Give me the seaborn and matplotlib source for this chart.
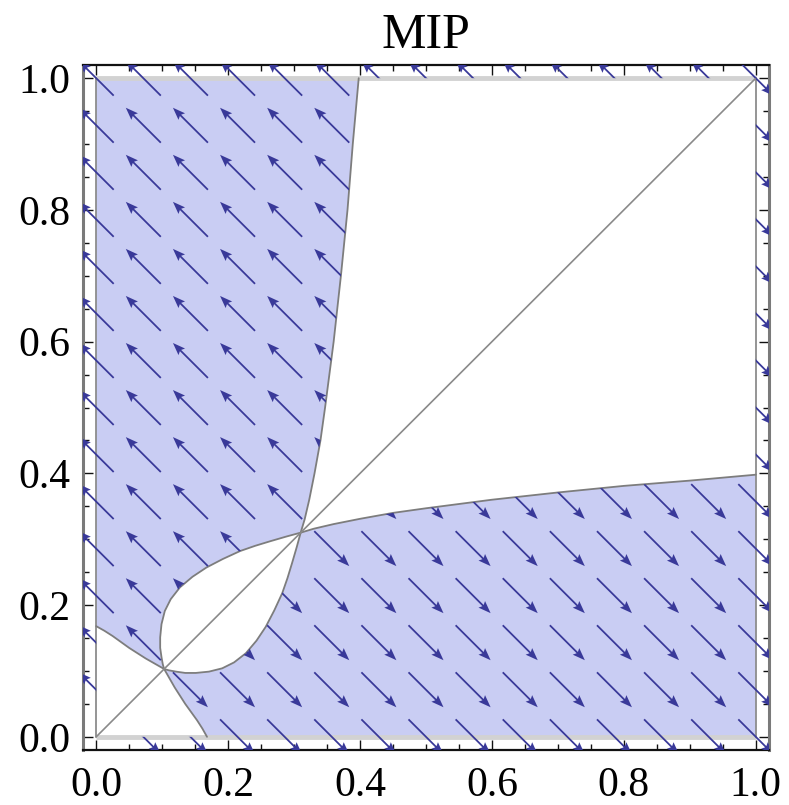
import numpy as np
import matplotlib
matplotlib.use('Agg')
import matplotlib.pyplot as plt
from matplotlib.path import Path
from matplotlib.patches import PathPatch
from matplotlib.ticker import MultipleLocator
import seaborn as sns

# boundary curve: from the top edge down to the crossing
# on the diagonal, then round the lower side of the loop to the node
curve_x = [0.398, 0.389, 0.381, 0.371, 0.360, 0.347, 0.340, 0.331, 0.323, 0.316, 0.31,
           0.304, 0.297, 0.290, 0.282, 0.270, 0.257, 0.243, 0.227, 0.209, 0.191,
           0.171, 0.151, 0.135, 0.121, 0.110, 0.103]
curve_y = [1.0, 0.9, 0.8, 0.7, 0.6, 0.5, 0.45, 0.4, 0.36, 0.33, 0.31,
           0.288, 0.264, 0.241, 0.218, 0.192, 0.167, 0.146, 0.127, 0.113, 0.104,
           0.099, 0.097, 0.097, 0.099, 0.101, 0.103]
# lower-left curve, from the left edge to the node (symmetric about the diagonal)
corner_x = [0.0, 0.0125, 0.025, 0.0375, 0.05, 0.0625, 0.075, 0.089, 0.103]
corner_y = [0.168, 0.161, 0.153, 0.144, 0.135, 0.127, 0.119, 0.111, 0.103]

grid_n = 14          # arrows every 1/14
arrow_len = 0.075
tick_vals = [0.0, 0.2, 0.4, 0.6, 0.8, 1.0]
title = "MIP"

fill_col = '#c9cdf3'
arrow_col = '#393999'
line_col = '#7d7d7d'

sns.set_theme(style='white')
plt.rcParams['font.family'] = ['Liberation Serif', 'DejaVu Serif']
plt.rcParams['text.color'] = 'black'
plt.rcParams['xtick.color'] = 'black'
plt.rcParams['ytick.color'] = 'black'

fig = plt.figure(figsize=(7.89, 8.05), dpi=100)
ax = fig.add_axes([83 / 789, 1 - 750 / 805, 686 / 789, 685 / 805])
ax.set_xlim(-0.02, 1.02)
ax.set_ylim(-0.02, 1.02)

cx, cy = np.array(curve_x), np.array(curve_y)
k = curve_y.index(0.31)
loop_x, loop_y = cy[k:][::-1], cx[k:][::-1]       # mirrored branch, node -> crossing
up_x, up_y = cx[:k + 1][::-1], cy[:k + 1][::-1]   # crossing -> top edge

r1x = np.concatenate([[0.0], corner_x, loop_x[1:], up_x[1:]])
r1y = np.concatenate([[1.0], corner_y, loop_y[1:], up_y[1:]])
r2x, r2y = r1y[::-1], r1x[::-1]


def poly(xs, ys):
    v = np.column_stack([xs, ys])
    v = np.vstack([v, v[:1]])
    return Path(v, closed=True)


p1 = poly(r1x, r1y)
p2 = poly(r2x, r2y)
ax.add_patch(PathPatch(p1, facecolor=fill_col, edgecolor='none', zorder=1))
ax.add_patch(PathPatch(p2, facecolor=fill_col, edgecolor='none', zorder=1))

# square edges
ax.plot([0, 1], [1, 1], color='#d2d2d2', lw=3.5, zorder=2, solid_capstyle='butt')
ax.plot([0, 1], [0, 0], color='#d2d2d2', lw=3.5, zorder=2, solid_capstyle='butt')
ax.plot([0, 0], [0, 1], color='#8c8c8c', lw=1.3, zorder=2)
ax.plot([1, 1], [0, 1], color='#8c8c8c', lw=1.3, zorder=2)

# boundary curves and diagonal
kw = dict(sort=False, estimator=None, color=line_col, lw=1.3, ax=ax, zorder=3)
sns.lineplot(x=cx, y=cy, **kw)
sns.lineplot(x=cy, y=cx, **kw)
c3x = np.concatenate([corner_x, corner_y[::-1][1:]])
c3y = np.concatenate([corner_y, corner_x[::-1][1:]])
sns.lineplot(x=c3x, y=c3y, **kw)
sns.lineplot(x=[0, 1], y=[0, 1], sort=False, estimator=None, color='#8a8a8a', lw=1.2, ax=ax, zorder=3)

# arrows: shown inside the shaded regions and in the margin outside the square
outer = poly([-0.5, 1.5, 1.5, -0.5], [-0.5, -0.5, 1.5, 1.5])
inner = poly([0, 0, 1, 1], [0, 1, 1, 0])
clip = Path.make_compound_path(outer, inner, p1, p2)
clip_patch = PathPatch(clip, transform=ax.transData)

g = np.arange(grid_n + 1) / grid_n
X, Y = np.meshgrid(g, g)
s = np.sign(np.round(Y - X, 6))
s[-1, -1] = -1
m = s != 0
U = -s * arrow_len / np.sqrt(2)
V = s * arrow_len / np.sqrt(2)
q = ax.quiver(X[m], Y[m], U[m], V[m], angles='xy', scale_units='xy', scale=1,
              pivot='middle', color=arrow_col, width=0.0026, headwidth=5.2,
              headlength=7.0, headaxislength=6.0, zorder=4)
q.set_clip_path(clip_patch)

# frame
for side in ['top', 'bottom']:
    ax.spines[side].set_color('#111111')
    ax.spines[side].set_linewidth(1.6)
for side in ['left', 'right']:
    ax.spines[side].set_color('#7a7a7a')
    ax.spines[side].set_linewidth(2.2)

ax.set_xticks(tick_vals)
ax.set_yticks(tick_vals)
ax.set_xticklabels([f"{t:.1f}" for t in tick_vals])
ax.set_yticklabels([f"{t:.1f}" for t in tick_vals])
ax.xaxis.set_minor_locator(MultipleLocator(0.05))
ax.yaxis.set_minor_locator(MultipleLocator(0.05))
ax.tick_params(which='both', direction='in', top=True, right=True, bottom=True, left=True,
               color='#111111', width=1.0, labelcolor='black')
ax.tick_params(which='major', length=7)
ax.tick_params(which='minor', length=4)
ax.tick_params(axis='x', which='major', labelsize=30, pad=12)
ax.tick_params(axis='y', which='major', labelsize=30, pad=9)

ax.set_title(title, fontsize=36, pad=12, color='black')
ax.set_xlabel('')
ax.set_ylabel('')

fig.savefig('out.png', dpi=100)
